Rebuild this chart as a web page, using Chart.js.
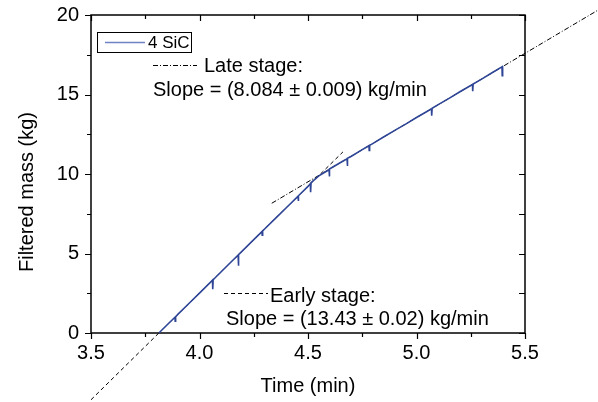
<!DOCTYPE html>
<html><head><meta charset="utf-8">
<script src="https://cdn.jsdelivr.net/npm/chart.js@4/dist/chart.umd.min.js"></script>
<style>html,body{margin:0;padding:0;background:#fff}#wrap{width:598px;height:402px}</style>
</head><body><div id="wrap"><canvas id="c" width="598" height="402"></canvas></div>
<script>
// ---- data ----
const seriesLabel = '4 SiC';
const timeMin = [3.813,3.85,3.887,3.888,3.890,3.90,3.95,4.00,4.05,4.060,4.061,4.063,4.10,4.15,4.178,4.179,4.181,4.20,4.25,4.288,4.289,4.291,4.30,4.35,4.40,4.45,4.454,4.455,4.457,4.50,4.511,4.512,4.514,4.55,4.597,4.598,4.600,4.65,4.680,4.681,4.683,4.70,4.75,4.781,4.782,4.784,4.80,4.85,4.90,4.95,5.00,5.05,5.069,5.070,5.072,5.10,5.15,5.20,5.25,5.258,5.259,5.261,5.30,5.35,5.394,5.395,5.397,5.40];
const massKg  = [0.00,0.50,0.99,0.75,1.02,1.17,1.84,2.51,3.18,3.32,2.76,3.35,3.85,4.53,4.90,4.23,4.93,5.20,5.87,6.38,6.15,6.42,6.54,7.21,7.88,8.55,8.60,8.30,8.63,9.22,9.40,8.85,9.45,9.88,10.27,9.85,10.31,10.72,10.96,10.50,10.99,11.12,11.53,11.78,11.48,11.80,11.93,12.34,12.74,13.14,13.55,13.95,14.10,13.67,14.13,14.36,14.76,15.17,15.57,15.63,15.20,15.66,15.97,16.38,16.74,16.19,16.77,16.78];
const earlyFitTime = [3.5, 4.661];
const earlyFitMass = [-4.20, 11.39];
const lateFitTime  = [4.333, 5.90];
const lateFitMass  = [8.16, 20.82];
const xMajorTicks = [3.5, 4.0, 4.5, 5.0, 5.5];
const xMinorTicks = [3.75, 4.25, 4.75, 5.25];
const yMajorTicks = [0, 5, 10, 15, 20];
const yMinorTicks = [2.5, 7.5, 12.5, 17.5];
const xTitle = 'Time (min)';
const yTitle = 'Filtered mass (kg)';
const lateText = ['Late stage:', 'Slope = (8.084 \u00B1 0.009) kg/min'];
const earlyText = ['Early stage:', 'Slope = (13.43 \u00B1 0.02) kg/min'];

const FONT = '"Liberation Sans", Arial, sans-serif';
const toXY = (xs, ys) => xs.map((x, i) => ({x, y: ys[i]}));

const framePlugin = {
  id: 'frame',
  beforeDatasetsDraw(chart) {
    const {ctx, chartArea: a, scales: {x, y}} = chart;
    ctx.save();
    ctx.strokeStyle = '#000';
    ctx.lineWidth = 1.5;
    ctx.strokeRect(a.left, a.top, a.right - a.left, a.bottom - a.top);
    ctx.lineWidth = 1.2;
    ctx.beginPath();
    const xt = [...xMajorTicks.map(v => [v, 6]), ...xMinorTicks.map(v => [v, 4])];
    xt.forEach(([v, L]) => {
      const p = Math.round(x.getPixelForValue(v)) + 0.5;
      ctx.moveTo(p, a.bottom); ctx.lineTo(p, a.bottom + L);
      ctx.moveTo(p, a.top); ctx.lineTo(p, a.top + L);
    });
    const yt = [...yMajorTicks.map(v => [v, 6]), ...yMinorTicks.map(v => [v, 4])];
    yt.forEach(([v, L]) => {
      const p = Math.round(y.getPixelForValue(v)) + 0.5;
      ctx.moveTo(a.left, p); ctx.lineTo(a.left - L, p);
      ctx.moveTo(a.right, p); ctx.lineTo(a.right - 6, p);
    });
    ctx.stroke();
    ctx.restore();
  },
  afterDraw(chart) {
    const {ctx} = chart;
    ctx.save();
    ctx.fillStyle = '#000';
    ctx.font = '20px ' + FONT;
    ctx.textAlign = 'center';
    ctx.textBaseline = 'alphabetic';
    ctx.fillText(xTitle, 308, 392);
    ctx.save();
    ctx.translate(33, 192);
    ctx.rotate(-Math.PI / 2);
    ctx.fillText(yTitle, 0, 0);
    ctx.restore();
    // legend
    ctx.lineWidth = 1;
    ctx.strokeStyle = '#000';
    ctx.strokeRect(97.5, 32.5, 94, 20);
    ctx.strokeStyle = '#6f82c4';
    ctx.lineWidth = 1.5;
    ctx.beginPath(); ctx.moveTo(105, 42.5); ctx.lineTo(145, 42.5); ctx.stroke();
    ctx.font = '17px ' + FONT;
    ctx.textAlign = 'left';
    ctx.textBaseline = 'middle';
    ctx.fillText(seriesLabel, 148, 43);
    // annotations
    ctx.font = '20px ' + FONT;
    ctx.textBaseline = 'alphabetic';
    ctx.strokeStyle = '#000';
    ctx.lineWidth = 1;
    ctx.setLineDash([5, 2, 1, 2]);
    ctx.beginPath(); ctx.moveTo(153, 65.5); ctx.lineTo(197, 65.5); ctx.stroke();
    ctx.setLineDash([4, 3]);
    ctx.beginPath(); ctx.moveTo(224, 293.5); ctx.lineTo(268, 293.5); ctx.stroke();
    ctx.setLineDash([]);
    ctx.fillText(lateText[0], 204, 72);
    ctx.fillText(lateText[1], 153, 96);
    ctx.fillText(earlyText[0], 270, 302);
    ctx.fillText(earlyText[1], 226, 325);
    ctx.restore();
  }
};

new Chart(document.getElementById('c'), {
  type: 'scatter',
  data: {
    datasets: [
      {label: seriesLabel, data: toXY(timeMin, massKg), showLine: true, borderColor: '#2f4596', borderWidth: 1.6, pointRadius: 0, tension: 0, clip: false},
      {label: 'Early fit', data: toXY(earlyFitTime, earlyFitMass), showLine: true, borderColor: '#000', borderWidth: 1, borderDash: [4, 3], pointRadius: 0, clip: false},
      {label: 'Late fit', data: toXY(lateFitTime, lateFitMass), showLine: true, borderColor: '#000', borderWidth: 1, borderDash: [5, 2, 1, 2], pointRadius: 0, clip: false}
    ]
  },
  options: {
    responsive: false,
    animation: false,
    devicePixelRatio: 1,
    layout: {padding: {left: 0, right: 73, top: 15, bottom: 0}},
    plugins: {legend: {display: false}, tooltip: {enabled: false}},
    scales: {
      x: {
        type: 'linear', min: 3.5, max: 5.5,
        afterBuildTicks: s => { s.ticks = xMajorTicks.map(v => ({value: v})); },
        afterFit: s => { s.height = 69; s.paddingLeft = 0; s.paddingRight = 0; },
        grid: {display: false, drawTicks: false},
        border: {display: false},
        ticks: {color: '#000', font: {family: FONT, size: 20}, padding: 8, maxRotation: 0, callback: v => Number(v).toFixed(1)}
      },
      y: {
        type: 'linear', min: 0, max: 20,
        afterBuildTicks: s => { s.ticks = yMajorTicks.map(v => ({value: v})); },
        afterFit: s => { s.width = 91; s.paddingTop = 0; s.paddingBottom = 0; },
        grid: {display: false, drawTicks: false},
        border: {display: false},
        ticks: {color: '#000', font: {family: FONT, size: 20}, padding: 12, callback: v => String(v)}
      }
    }
  },
  plugins: [framePlugin]
});
</script>
</body></html>
